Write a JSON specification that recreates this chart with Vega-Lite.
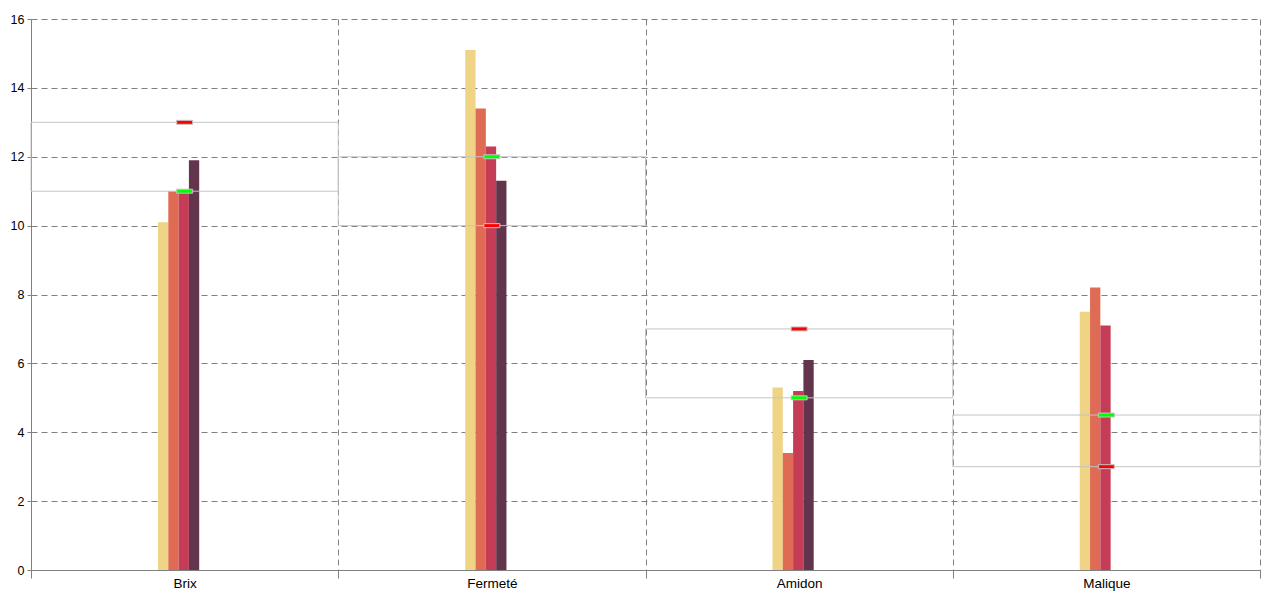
{
  "$schema": "https://vega.github.io/schema/vega-lite/v6.json",
  "width": 1229,
  "height": 551,
  "autosize": {"type": "none"},
  "padding": {"left": 31, "top": 19, "right": 20, "bottom": 30},
  "background": "#ffffff",
  "config": {
    "view": {"stroke": null},
    "font": "Liberation Sans",
    "axis": {
      "labelFont": "Liberation Sans",
      "labelColor": "#000000",
      "domainColor": "#808080",
      "tickColor": "#808080",
      "gridColor": "#808080",
      "gridDash": [6, 4],
      "gridWidth": 1,
      "gridOpacity": 1,
      "title": null
    }
  },
  "datasets": {
    "bars": [
      {"cat": "Brix", "serie": "S1", "value": 10.1},
      {"cat": "Brix", "serie": "S2", "value": 11.0},
      {"cat": "Brix", "serie": "S3", "value": 11.0},
      {"cat": "Brix", "serie": "S4", "value": 11.9},
      {"cat": "Brix", "serie": "S5", "value": 0},
      {"cat": "Fermeté", "serie": "S1", "value": 15.1},
      {"cat": "Fermeté", "serie": "S2", "value": 13.4},
      {"cat": "Fermeté", "serie": "S3", "value": 12.3},
      {"cat": "Fermeté", "serie": "S4", "value": 11.3},
      {"cat": "Fermeté", "serie": "S5", "value": 0},
      {"cat": "Amidon", "serie": "S1", "value": 5.3},
      {"cat": "Amidon", "serie": "S2", "value": 3.4},
      {"cat": "Amidon", "serie": "S3", "value": 5.2},
      {"cat": "Amidon", "serie": "S4", "value": 6.1},
      {"cat": "Amidon", "serie": "S5", "value": 0},
      {"cat": "Malique", "serie": "S1", "value": 7.5},
      {"cat": "Malique", "serie": "S2", "value": 8.2},
      {"cat": "Malique", "serie": "S3", "value": 7.1},
      {"cat": "Malique", "serie": "S4", "value": 0},
      {"cat": "Malique", "serie": "S5", "value": 0}
    ],
    "ranges": [
      {"cat": "Brix", "low": 11, "high": 13, "red": 13, "green": 11},
      {"cat": "Fermeté", "low": 10, "high": 12, "red": 10, "green": 12},
      {"cat": "Amidon", "low": 5, "high": 7, "red": 7, "green": 5},
      {"cat": "Malique", "low": 3, "high": 4.5, "red": 3, "green": 4.5}
    ]
  },
  "encoding": {
    "x": {
      "field": "cat",
      "type": "nominal",
      "sort": ["Brix", "Fermeté", "Amidon", "Malique"],
      "scale": {"paddingInner": 0, "paddingOuter": 0},
      "axis": {
        "labelAngle": 0,
        "tickBand": "extent",
        "grid": true,
        "labelFontSize": 13.5,
        "tickSize": 8,
        "labelPadding": -2
      }
    }
  },
  "layer": [
    {
      "data": {"name": "bars"},
      "mark": {"type": "bar"},
      "encoding": {
        "xOffset": {
          "field": "serie",
          "type": "nominal",
          "scale": {"range": [127, 178.5], "paddingOuter": 0, "paddingInner": 0}
        },
        "y": {
          "field": "value",
          "type": "quantitative",
          "scale": {"domain": [0, 16], "nice": false},
          "axis": {
            "values": [0, 2, 4, 6, 8, 10, 12, 14, 16],
            "grid": true,
            "labelFontSize": 12.5,
            "tickSize": 4,
            "labelPadding": 3
          }
        },
        "color": {
          "field": "serie",
          "type": "nominal",
          "scale": {
            "domain": ["S1", "S2", "S3", "S4", "S5"],
            "range": ["#EED484", "#DF6B55", "#C53C56", "#63354C", "#3E8C8E"]
          },
          "legend": null
        }
      }
    },
    {
      "data": {"name": "ranges"},
      "mark": {"type": "bar", "fill": "transparent", "stroke": "#c4c4c4", "strokeWidth": 1},
      "encoding": {
        "y": {"field": "low", "type": "quantitative"},
        "y2": {"field": "high"}
      }
    },
    {
      "data": {"name": "ranges"},
      "mark": {"type": "tick", "color": "#ff0000", "stroke": "#c4c4c4", "strokeWidth": 1, "size": 16, "thickness": 4, "opacity": 1},
      "encoding": {
        "y": {"field": "red", "type": "quantitative"}
      }
    },
    {
      "data": {"name": "ranges"},
      "mark": {"type": "tick", "color": "#00ff00", "stroke": "#c4c4c4", "strokeWidth": 1, "size": 16, "thickness": 4, "opacity": 1},
      "encoding": {
        "y": {"field": "green", "type": "quantitative"}
      }
    }
  ]
}
